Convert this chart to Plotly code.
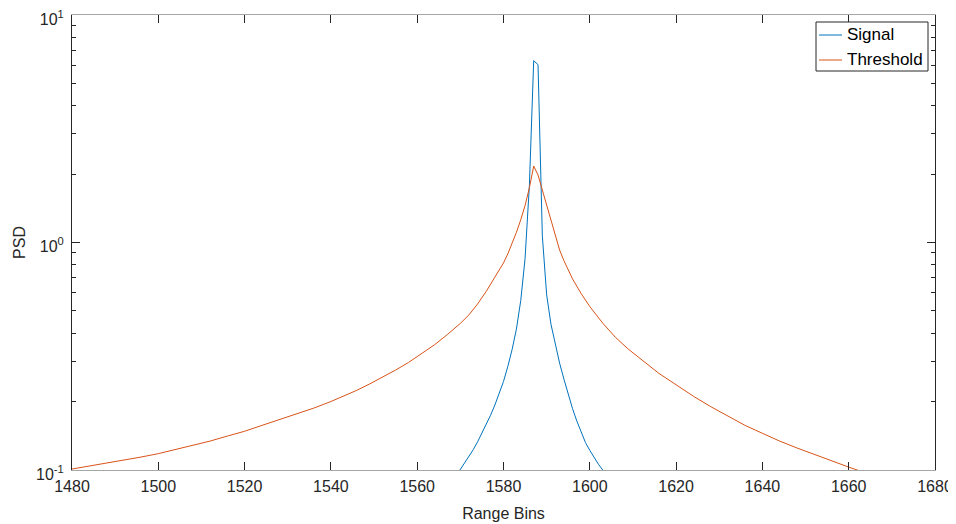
import plotly.graph_objects as go

# ---- data ----
signal_x = [1568, 1569, 1570, 1571, 1572, 1573, 1574, 1575, 1576, 1577, 1578, 1579,
            1580, 1581, 1582, 1583, 1584, 1585, 1586, 1587, 1588, 1589, 1590, 1591,
            1592, 1593, 1594, 1595, 1596, 1597, 1598, 1599, 1600, 1601, 1602, 1603,
            1604, 1605, 1606]
signal_y = [0.088, 0.094, 0.100, 0.107, 0.115, 0.123, 0.133, 0.145, 0.158, 0.174, 0.193, 0.216,
            0.245, 0.285, 0.339, 0.417, 0.556, 0.851, 1.78, 6.30, 6.05, 1.07, 0.589, 0.437,
            0.355, 0.295, 0.251, 0.214, 0.186, 0.164, 0.146, 0.132, 0.122, 0.113, 0.106, 0.100,
            0.094, 0.089, 0.085]

threshold_x = [1480, 1484, 1488, 1492, 1496, 1500, 1504, 1508, 1512, 1516, 1520, 1524,
               1528, 1532, 1536, 1540, 1543, 1546, 1549, 1552, 1555, 1558, 1561, 1564,
               1567, 1570, 1572, 1574, 1576, 1578, 1580, 1581, 1582, 1583, 1584, 1585,
               1586, 1587, 1588, 1589, 1590, 1591, 1592, 1593, 1594, 1595, 1596, 1598,
               1600, 1603, 1606, 1609, 1612, 1616, 1620, 1624, 1628, 1632, 1636, 1640,
               1644, 1648, 1652, 1656, 1660, 1664, 1668, 1672, 1676, 1680]
threshold_y = [0.101, 0.104, 0.107, 0.111, 0.114, 0.118, 0.123, 0.128, 0.134, 0.141, 0.148, 0.157,
               0.166, 0.176, 0.187, 0.200, 0.211, 0.224, 0.239, 0.256, 0.275, 0.297, 0.324, 0.355,
               0.394, 0.441, 0.481, 0.537, 0.610, 0.700, 0.813, 0.891, 0.989, 1.109, 1.259, 1.455,
               1.738, 2.168, 1.980, 1.700, 1.435, 1.236, 1.072, 0.927, 0.832, 0.755, 0.692, 0.596,
               0.523, 0.442, 0.382, 0.339, 0.305, 0.266, 0.237, 0.211, 0.190, 0.172, 0.157, 0.145,
               0.134, 0.125, 0.117, 0.110, 0.103, 0.097, 0.0916, 0.0867, 0.082, 0.0776]

series_names = ["Signal", "Threshold"]
series_colors = ["#0072BD", "#D95319"]

x_ticks = [1480, 1500, 1520, 1540, 1560, 1580, 1600, 1620, 1640, 1660, 1680]
y_ticks = [0.1, 1, 10]
y_tick_labels = ["10<sup>-1</sup>", "10<sup>0</sup>", "10<sup>1</sup>"]
y_minor = [0.2, 0.3, 0.4, 0.5, 0.6, 0.7, 0.8, 0.9, 2, 3, 4, 5, 6, 7, 8, 9]

FONT = "Arial, Liberation Sans, Helvetica, sans-serif"
DARK = "#262626"

fig = go.Figure()
fig.add_trace(go.Scatter(x=signal_x, y=signal_y, mode="lines", name=series_names[0],
                         line=dict(color=series_colors[0], width=1)))
fig.add_trace(go.Scatter(x=threshold_x, y=threshold_y, mode="lines", name=series_names[1],
                         line=dict(color=series_colors[1], width=1)))

# The page body has an 8px margin, so the figure is 8px smaller than the window.
fig.update_layout(
    width=948, height=516,
    autosize=False,
    margin=dict(l=64, r=21, t=7, b=54, autoexpand=False),
    paper_bgcolor="white", plot_bgcolor="white",
    font=dict(family=FONT, size=16, color=DARK),
    showlegend=False,
)

# Legend box drawn in the MATLAB style (paper coordinates of the plot area)
PX_W, PX_H = 863.0, 455.0
def px_x(p):
    return (p - 72) / PX_W
def px_y(p):
    return 1 - (p - 15) / PX_H

fig.add_shape(type="rect", xref="paper", yref="paper",
              x0=px_x(816), x1=px_x(928), y0=px_y(71), y1=px_y(22),
              line=dict(color=DARK, width=1), fillcolor="white", layer="above")
for i, (name, col) in enumerate(zip(series_names, series_colors)):
    yy = px_y(35 + 25 * i)
    fig.add_shape(type="line", xref="paper", yref="paper",
                  x0=px_x(819), x1=px_x(842), y0=yy, y1=yy,
                  line=dict(color=col, width=1), layer="above")
    fig.add_annotation(xref="paper", yref="paper", x=px_x(845), y=yy,
                       xanchor="left", yanchor="middle", text=name, showarrow=False,
                       font=dict(size=17, color="black", family=FONT))

fig.update_xaxes(
    range=[1480, 1680], tickvals=x_ticks, automargin=False,
    showgrid=False, zeroline=False,
    showline=True, linecolor="#a6a6a6", linewidth=1, mirror="ticks",
    ticks="inside", ticklen=8, tickcolor=DARK, tickwidth=1,
    ticklabelstandoff=2, ticklabeloverflow="allow",
    title=dict(text="Range Bins", font=dict(size=16, color=DARK), standoff=13),
)

fig.update_yaxes(
    type="log", range=[-1, 1], tickvals=y_ticks, ticktext=y_tick_labels, automargin=False,
    showgrid=False, zeroline=False,
    showline=True, linecolor=DARK, linewidth=1, mirror="ticks",
    ticks="inside", ticklen=8, tickcolor=DARK, tickwidth=1,
    minor=dict(tickvals=y_minor, ticks="inside", ticklen=4, tickcolor=DARK, showgrid=False),
    ticklabelstandoff=4, ticklabelshift=4, ticklabeloverflow="allow",
    title=dict(text="PSD", font=dict(size=16, color=DARK), standoff=6),
)

fig.write_html("out.html")
